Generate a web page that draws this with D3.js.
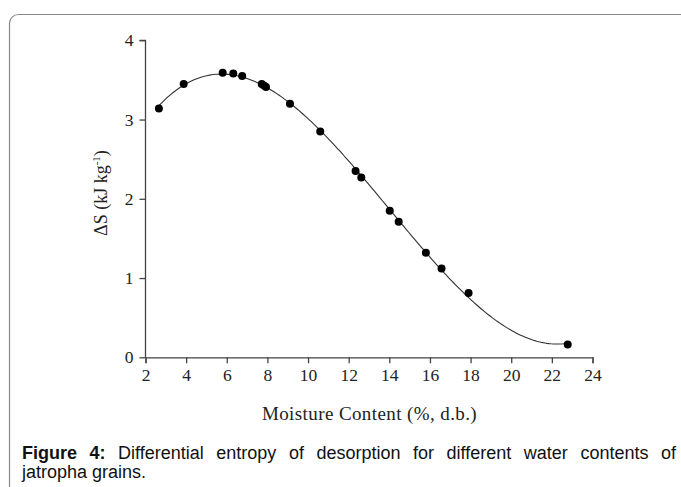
<!DOCTYPE html>
<html><head><meta charset="utf-8">
<script src="https://cdn.jsdelivr.net/npm/d3@7"></script>
<style>body{margin:0;background:#fff}svg{display:block}</style>
</head><body>
<svg id="c" width="681" height="487"></svg>
<script>
const moisture = [2.66, 3.88, 5.80, 6.32, 6.76, 7.72, 7.83, 7.93, 9.11, 10.60, 12.34, 12.62, 14.02, 14.46, 15.80, 16.57, 17.90, 22.78];
const entropy  = [3.14, 3.45, 3.59, 3.58, 3.55, 3.45, 3.43, 3.41, 3.20, 2.85, 2.35, 2.27, 1.85, 1.71, 1.32, 1.12, 0.81, 0.16];
const xTicks = [2,4,6,8,10,12,14,16,18,20,22,24];
const yTicks = [0,1,2,3,4];

const svg = d3.select("#c");
// frame
svg.append("rect").attr("x",9.5).attr("y",14.5).attr("width",700).attr("height",500)
  .attr("rx",9).attr("fill","none").attr("stroke","#8a8a8a").attr("stroke-width",1.2);

const x = d3.scaleLinear().domain([2,24]).range([145.5,592.5]);
const y = d3.scaleLinear().domain([0,4]).range([357.3,40.3]);

const axisColor = "#444";
const gx = svg.append("g").attr("transform",`translate(0,${y(0)})`)
  .call(d3.axisBottom(x).tickValues(xTicks).tickSize(6).tickPadding(5).tickFormat(d3.format("d")));
const gy = svg.append("g").attr("transform",`translate(${x(2)},0)`)
  .call(d3.axisLeft(y).tickValues(yTicks).tickSize(6).tickPadding(6).tickFormat(d3.format("d")));
[gx,gy].forEach(g=>{
  g.select(".domain").attr("stroke",axisColor).attr("stroke-width",1.3);
  g.selectAll(".tick line").attr("stroke",axisColor).attr("stroke-width",1.3);
  g.selectAll(".tick text").attr("fill","#222").attr("font-family","Liberation Serif").attr("font-size",17.5);
});
gy.select(".domain").attr("d",`M-6,${y(4)}H0V${y(0)}`);

// cubic least-squares trendline fitted to the data
function polyfit(xs, ys, deg){
  const n = deg+1;
  const A = Array.from({length:n},()=>new Array(n+1).fill(0));
  for(let k=0;k<xs.length;k++){
    for(let i=0;i<n;i++){
      for(let j=0;j<n;j++) A[i][j]+=Math.pow(xs[k],i+j);
      A[i][n]+=ys[k]*Math.pow(xs[k],i);
    }
  }
  for(let i=0;i<n;i++){
    let p=i; for(let r=i+1;r<n;r++) if(Math.abs(A[r][i])>Math.abs(A[p][i])) p=r;
    [A[i],A[p]]=[A[p],A[i]];
    for(let r=0;r<n;r++){ if(r===i) continue; const f=A[r][i]/A[i][i]; for(let c=i;c<=n;c++) A[r][c]-=f*A[i][c]; }
  }
  return A.map((row,i)=>row[n]/row[i]);
}
const coef = polyfit(moisture, entropy, 3);
const fx = v => coef.reduce((s,c,i)=>s+c*Math.pow(v,i),0);
const xs = d3.range(d3.min(moisture), d3.max(moisture)+0.001, 0.1);
svg.append("path").datum(xs)
  .attr("d", d3.line().x(d=>x(d)).y(d=>y(fx(d))))
  .attr("fill","none").attr("stroke","#333").attr("stroke-width",1.1);

svg.append("g").selectAll("circle").data(moisture).join("circle")
  .attr("cx",d=>x(d)).attr("cy",(d,i)=>y(entropy[i])).attr("r",4).attr("fill","#000");

// axis titles
svg.append("text").attr("x",369.5).attr("y",420).attr("text-anchor","middle")
  .attr("font-family","Liberation Serif").attr("font-size",19).attr("letter-spacing",0.4).attr("fill","#222")
  .text("Moisture Content (%, d.b.)");

const yl = svg.append("text").attr("transform","translate(107,193) rotate(-90)").attr("text-anchor","middle")
  .attr("font-family","Liberation Serif").attr("font-size",18).attr("fill","#222");
yl.append("tspan").text("ΔS (kJ kg");
yl.append("tspan").attr("dy",-7).attr("font-size",11).text("-1");
yl.append("tspan").attr("dy",7).text(")");

// caption (justified first line via word spacing)
const cap = svg.append("text").attr("x",22).attr("y",459)
  .attr("font-family","Liberation Sans").attr("font-size",18).attr("fill","#111");
cap.append("tspan").attr("font-weight","bold").text("Figure 4:");
cap.append("tspan").text(" Differential entropy of desorption for different water contents of");
const natural = cap.node().getComputedTextLength();
const gaps = 10;
cap.attr("word-spacing", Math.max(0,(654 - natural)/gaps));
svg.append("text").attr("x",22).attr("y",478)
  .attr("font-family","Liberation Sans").attr("font-size",18).attr("fill","#111")
  .text("jatropha grains.");
</script>
</body></html>
